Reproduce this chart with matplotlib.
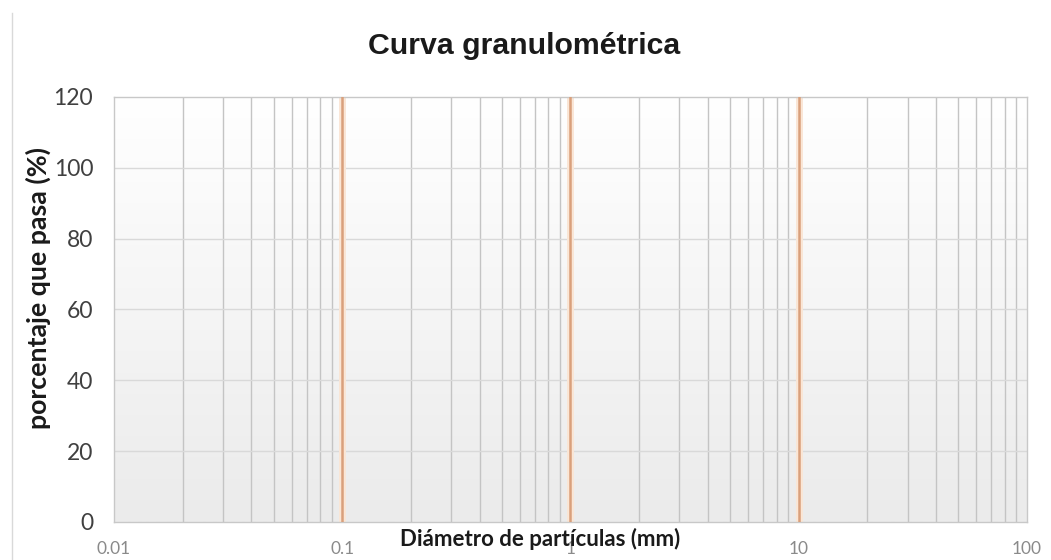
import matplotlib
matplotlib.use("Agg")
import matplotlib.pyplot as plt
import numpy as np
from matplotlib.lines import Line2D

title = "Curva granulométrica"
x_label = "Diámetro de partículas (mm)"
y_label = "porcentaje que pasa (%)"
x_ticks = [0.01, 0.1, 1, 10, 100]
x_tick_labels = ["0.01", "0.1", "1", "10", "100"]
y_ticks = [0, 20, 40, 60, 80, 100, 120]
decade_lines = [0.1, 1, 10]
minor_steps = [2, 3, 4, 5, 6, 7, 8, 9]

fig = plt.figure(figsize=(10.51, 5.6), dpi=100)
ax = fig.add_axes([0.1085, 0.068, 0.8685, 0.759])

ax.set_xscale("log")
ax.set_xlim(x_ticks[0], x_ticks[-1])
ax.set_ylim(y_ticks[0], y_ticks[-1])

# gradient fill of the plot area (white -> light grey)
grad = np.linspace(0, 1, 256).reshape(-1, 1)
ax.imshow(grad, extent=[0, 1, 0, 1], transform=ax.transAxes, aspect="auto",
          cmap=matplotlib.colors.LinearSegmentedColormap.from_list("g", ["#ffffff", "#ebebeb"]),
          zorder=0, origin="upper")

# minor vertical gridlines
for dec in x_ticks[:-1]:
    for m in minor_steps:
        ax.axvline(dec * m, color="#c4c4c4", lw=1.0, zorder=1)
# horizontal gridlines
for yv in y_ticks[1:-1]:
    ax.axhline(yv, color="#d9d9d9", lw=1.0, zorder=1)
# decade lines
for xv in decade_lines:
    ax.axvline(xv, color="#fae6d6", lw=5, zorder=2)
    ax.axvline(xv, color="#d9a07c", lw=1.8, zorder=3)

for s in ax.spines.values():
    s.set_color("#c8c8c8")
    s.set_linewidth(1.0)

ax.set_yticks(y_ticks)
ax.set_yticklabels([str(v) for v in y_ticks], fontsize=16.5, color="#404040",
                   family=["Lato", "DejaVu Sans"])
ax.set_xticks(x_ticks)
ax.set_xticks([], minor=True)
ax.set_xticklabels(x_tick_labels, fontsize=12.5, color="#8a8a8a",
                   family=["Lato", "DejaVu Sans"])
ax.tick_params(axis="both", length=0)
ax.tick_params(axis="y", pad=15)
ax.tick_params(axis="x", pad=14)

fig.text(0.4985, 0.917, title, ha="center", va="center", fontsize=21.8,
         fontweight="bold", color="#1a1a1a", family=["Liberation Sans", "DejaVu Sans"])
fig.text(0.514, 0.037, x_label, ha="center", va="center", fontsize=16,
         fontweight="bold", color="#1a1a1a", family=["Lato", "DejaVu Sans"])
fig.text(0.036, 0.486, y_label, ha="center", va="center", rotation=90, fontsize=19.3,
         fontweight="bold", color="#1a1a1a", family=["Lato", "DejaVu Sans"])

# chart area border on the left
fig.add_artist(Line2D([0.0115, 0.0115], [0.0, 0.977], transform=fig.transFigure,
                      color="#d9d9d9", lw=1.0))

fig.savefig("out.png", dpi=100)
